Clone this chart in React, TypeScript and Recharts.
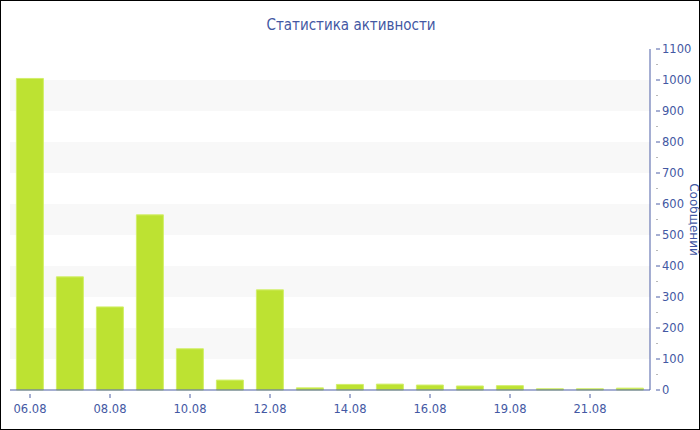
import React from "react";
import { BarChart, Bar, XAxis, YAxis, ReferenceArea, Label } from "recharts";

const days = [
  "06.08", "07.08", "08.08", "09.08", "10.08", "11.08", "12.08", "13.08",
  "14.08", "15.08", "16.08", "17.08", "19.08", "20.08", "21.08", "22.08",
];
const messages = [1005, 365, 268, 565, 133, 32, 323, 7, 18, 19, 16, 13, 14, 4, 4, 6];
const yTicks = [0, 50, 100, 150, 200, 250, 300, 350, 400, 450, 500, 550, 600, 650, 700, 750, 800, 850, 900, 950, 1000, 1050, 1100];
const bands = [
  [100, 200],
  [300, 400],
  [500, 600],
  [700, 800],
  [900, 1000],
];

const data = days.map((d, i) => ({ day: d, value: messages[i] }));

const FONT = "'DejaVu Sans', Verdana, sans-serif";
const AXIS = "#4c5fa6";
const TEXT = "#4358a3";

function XTick(props: any) {
  const { x, y, payload } = props;
  return (
    <g>
      <line x1={x} x2={x} y1={y - 4} y2={y} stroke={AXIS} strokeWidth={1} />
      <text x={x} y={y + 15} textAnchor="middle" fill={TEXT} fontSize={11.5} fontFamily={FONT}>
        {payload.value}
      </text>
    </g>
  );
}

function YTick(props: any) {
  const { x, y, payload } = props;
  const major = payload.value % 100 === 0;
  if (!major) {
    return <line x1={x - 2} x2={x} y1={y} y2={y} stroke="#b8b8b8" strokeWidth={1} />;
  }
  return (
    <g>
      <line x1={x - 2} x2={x + 2} y1={y} y2={y} stroke={AXIS} strokeWidth={1} />
      <text x={x + 4} y={y + 4} textAnchor="start" fill={TEXT} fontSize={11.5} fontFamily={FONT}>
        {payload.value}
      </text>
    </g>
  );
}

function YLabel(props: any) {
  const { viewBox } = props;
  const cx = viewBox.x + viewBox.width - 10;
  const cy = viewBox.y + viewBox.height / 2;
  return (
    <text
      x={cx}
      y={cy}
      transform={`rotate(90, ${cx}, ${cy})`}
      textAnchor="middle"
      fill={TEXT}
      fontSize={12}
      fontFamily={FONT}
    >
      Сообщений
    </text>
  );
}

export default function App() {
  return (
    <div
      style={{
        position: "absolute",
        left: 0,
        top: 0,
        width: 700,
        height: 430,
        border: "1px solid #000",
        boxSizing: "border-box",
        background: "#fff",
      }}
    >
      <div
        style={{
          position: "absolute",
          top: 15,
          left: 0,
          width: 700,
          textAlign: "center",
          fontFamily: "'DejaVu Sans Condensed', 'DejaVu Sans', sans-serif",
          fontSize: 15,
          color: TEXT,
        }}
      >
        Статистика активности
      </div>
      <div style={{ position: "absolute", left: -1, top: -1 }}>
        <BarChart
          width={700}
          height={430}
          data={data}
          margin={{ top: 49, right: 0, bottom: 0, left: 10 }}
          barCategoryGap="16%"
        >
          {bands.map(([a, b]) => (
            <ReferenceArea key={a} y1={a} y2={b} fill="#f8f8f8" fillOpacity={1} stroke="none" ifOverflow="visible" />
          ))}
          <XAxis
            dataKey="day"
            interval={1}
            height={40}
            axisLine={{ stroke: AXIS }}
            tickLine={false}
            tick={<XTick />}
          />
          <YAxis
            orientation="right"
            width={50}
            domain={[0, 1100]}
            ticks={yTicks}
            interval={0}
            axisLine={{ stroke: AXIS }}
            tickLine={false}
            tick={<YTick />}
          >
            <Label content={<YLabel />} />
          </YAxis>
          <Bar dataKey="value" fill="#bde232" stroke="#d2ef6a" strokeWidth={1} isAnimationActive={false} />
        </BarChart>
      </div>
    </div>
  );
}
